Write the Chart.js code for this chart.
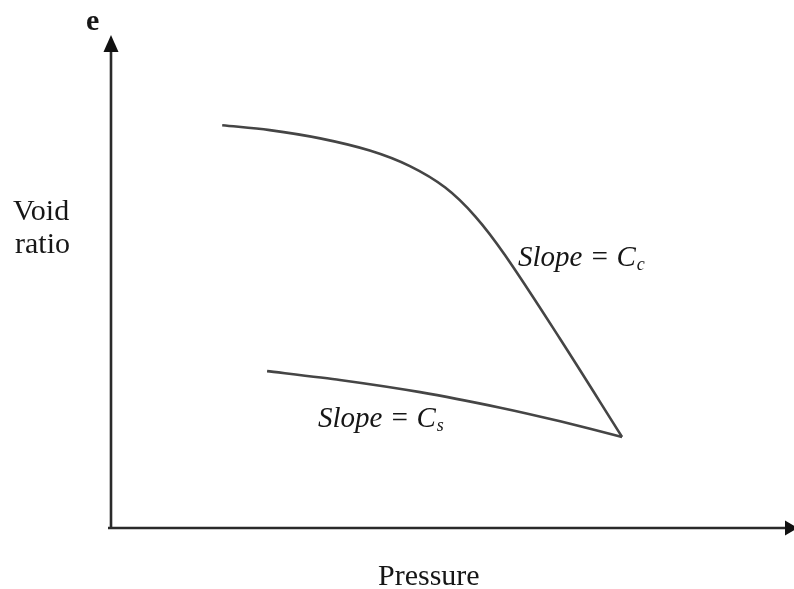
<!DOCTYPE html>
<html>
<head>
<meta charset="utf-8">
<title>Void ratio vs pressure</title>
<script src="https://cdn.jsdelivr.net/npm/chart.js@4/dist/chart.umd.min.js"></script>
<style>
  html, body { margin: 0; padding: 0; background: #ffffff; }
  #wrap { width: 794px; height: 589px; }
</style>
</head>
<body>
<div id="wrap"><canvas id="c" width="794" height="589"></canvas></div>
<script>
// Loading (virgin compression) branch: pressure vs void ratio, arbitrary units
const loadPressure = [1.65, 2.35, 3.09, 3.82, 4.41, 4.93, 5.37, 5.81, 6.62, 7.53];
const loadVoid     = [8.25, 8.15, 7.98, 7.73, 7.41, 6.97, 6.38, 5.58, 3.86, 1.85];

// Unloading (swelling) branch, starting from the end of loading
const unloadPressure = [7.53, 6.62, 5.74, 4.56, 3.38, 2.31];
const unloadVoid     = [1.85, 2.17, 2.45, 2.77, 3.02, 3.20];

// Axis extents
const pressureRange = [0, 10];
const voidRange = [0, 10];

// Text labels
const yLetter = 'e';
const yTitle = ['Void', 'ratio'];
const xTitle = 'Pressure';
const ccLabel = ['Slope = C', 'c'];
const csLabel = ['Slope = C', 's'];

const toPoints = (xs, ys) => xs.map((x, i) => ({ x: x, y: ys[i] }));

const ink = '#161616';
const curveColor = '#454545';

// Arrow-headed axes and free-standing annotation text
const diagramPlugin = {
  id: 'diagram',
  afterDraw(chart) {
    const ctx = chart.ctx;
    const xs = chart.scales.x, ys = chart.scales.y;
    const x0 = xs.getPixelForValue(pressureRange[0]);
    const x1 = xs.getPixelForValue(pressureRange[1]);
    const y0 = ys.getPixelForValue(voidRange[0]);
    const y1 = ys.getPixelForValue(voidRange[1]);

    ctx.save();
    ctx.strokeStyle = '#2a2a2a';
    ctx.fillStyle = '#111';
    ctx.lineWidth = 2.6;
    ctx.lineCap = 'butt';

    // vertical axis
    ctx.beginPath();
    ctx.moveTo(x0 + 1, y0 + 1);
    ctx.lineTo(x0 + 1, y1 + 10);
    ctx.stroke();
    ctx.beginPath();
    ctx.moveTo(x0 + 1, y1 - 5);
    ctx.lineTo(x0 - 6.5, y1 + 12);
    ctx.lineTo(x0 + 8.5, y1 + 12);
    ctx.closePath();
    ctx.fill();

    // horizontal axis
    ctx.beginPath();
    ctx.moveTo(x0 - 2, y0 + 1);
    ctx.lineTo(x1 - 2, y0 + 1);
    ctx.stroke();
    ctx.beginPath();
    ctx.moveTo(x1 + 8, y0 + 1);
    ctx.lineTo(x1 - 5, y0 - 6.5);
    ctx.lineTo(x1 - 5, y0 + 8.5);
    ctx.closePath();
    ctx.fill();

    // axis texts
    ctx.fillStyle = ink;
    ctx.textBaseline = 'alphabetic';
    ctx.textAlign = 'left';
    ctx.font = 'bold 30px "Liberation Serif", "DejaVu Serif", serif';
    ctx.fillText(yLetter, 86, 30);

    ctx.font = '30px "Liberation Serif", "DejaVu Serif", serif';
    ctx.fillText(yTitle[0], 13, 220);
    ctx.fillText(yTitle[1], 15, 253);
    ctx.fillText(xTitle, 378, 585);

    // slope annotations with subscripts
    const slopeText = (parts, px, py) => {
      ctx.font = 'italic 29px "Liberation Serif", "DejaVu Serif", serif';
      ctx.fillText(parts[0], px, py);
      const w = ctx.measureText(parts[0]).width;
      ctx.font = 'italic 18px "Liberation Serif", "DejaVu Serif", serif';
      ctx.fillText(parts[1], px + w + 1, py + 4);
    };
    slopeText(ccLabel, 518, 266);
    slopeText(csLabel, 318, 427);

    ctx.restore();
  }
};

const lineStyle = {
  showLine: true,
  borderColor: curveColor,
  borderWidth: 2.6,
  pointRadius: 0
};

new Chart(document.getElementById('c'), {
  type: 'scatter',
  data: {
    datasets: [
      Object.assign({ label: 'Loading', data: toPoints(loadPressure, loadVoid), tension: 0.35 }, lineStyle),
      Object.assign({ label: 'Unloading', data: toPoints(unloadPressure, unloadVoid), tension: 0.2 }, lineStyle)
    ]
  },
  options: {
    responsive: false,
    animation: false,
    layout: { padding: { left: 110, right: 4, top: 40, bottom: 62 } },
    plugins: {
      legend: { display: false },
      tooltip: { enabled: false },
      title: { display: false }
    },
    scales: {
      x: { type: 'linear', min: pressureRange[0], max: pressureRange[1], display: false },
      y: { type: 'linear', min: voidRange[0], max: voidRange[1], display: false }
    }
  },
  plugins: [diagramPlugin]
});
</script>
</body>
</html>
